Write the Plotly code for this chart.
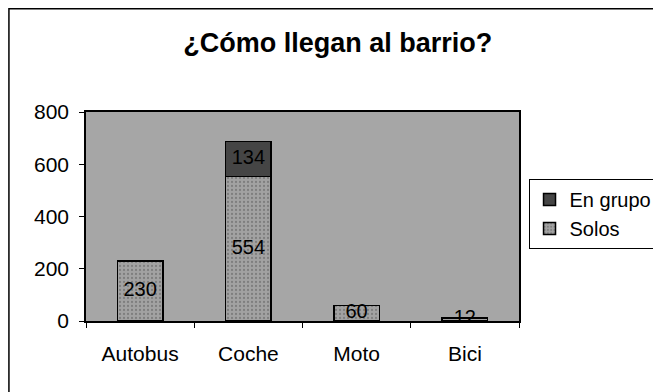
import plotly.graph_objects as go

# Datos
categorias = ['Autobus', 'Coche', 'Moto', 'Bici']
solos = [230, 554, 60, 12]
en_grupo = [0, 134, 0, 0]

fuente = 'Liberation Sans, Arial, sans-serif'

fig = go.Figure()

fig.add_trace(go.Bar(
    x=categorias, y=solos, name='Solos',
    marker=dict(color='#a2a2a2', line=dict(color='black', width=1.5),
                pattern=dict(shape='.', fgcolor='#5a5a5a', size=4, solidity=0.25)),
    width=0.42,
))
fig.add_trace(go.Bar(
    x=categorias, y=en_grupo, name='En grupo',
    marker=dict(color='#454545', line=dict(color='black', width=1.5)),
    width=0.42,
))

# Etiquetas de valor centradas en cada segmento
fig.add_trace(go.Scatter(
    x=categorias, y=[v / 2 for v in solos], mode='text',
    text=[str(v) for v in solos], textfont=dict(family=fuente, size=20, color='black'),
    showlegend=False, hoverinfo='skip',
))
idx = [i for i, v in enumerate(en_grupo) if v > 0]
fig.add_trace(go.Scatter(
    x=[categorias[i] for i in idx], y=[solos[i] + en_grupo[i] / 2 for i in idx], mode='text',
    text=[str(en_grupo[i]) for i in idx], textfont=dict(family=fuente, size=20, color='black'),
    showlegend=False, hoverinfo='skip',
))

# la pagina tiene 8px de margen en el body: la figura se reduce para caber
fig.update_layout(
    barmode='stack',
    width=653, height=384,
    margin=dict(l=78, r=142, t=104, b=71, autoexpand=False),
    paper_bgcolor='white',
    plot_bgcolor='#a6a6a6',
    font=dict(family=fuente, size=21, color='black'),
    title=dict(text='<b>¿Cómo llegan al barrio?</b>', x=0.505, xref='container', xanchor='center',
               y=0.911, yanchor='middle', font=dict(size=27, family=fuente)),
    showlegend=True,
    legend=dict(x=1.022, y=0.68, xanchor='left', yanchor='top', traceorder='reversed',
                bgcolor='white', bordercolor='black', borderwidth=1,
                font=dict(size=20), itemwidth=30),
    shapes=[dict(type='rect', xref='paper', yref='paper', x0=-0.178, x1=1.6, y0=-0.5, y1=1.494,
                 line=dict(color='black', width=1.5), fillcolor='rgba(0,0,0,0)', layer='below')],
)

fig.update_xaxes(showline=True, linecolor='black', linewidth=1.5, mirror=True,
                 ticks='outside', tickson='boundaries', ticklen=5, tickcolor='black',
                 showgrid=False, tickfont=dict(size=21), ticklabelstandoff=13)
fig.update_yaxes(range=[0, 800], dtick=200, showline=True, linecolor='black', linewidth=1.5,
                 mirror=True, ticks='outside', ticklen=5, tickcolor='black',
                 showgrid=False, zeroline=False, tickfont=dict(size=21), ticklabelstandoff=6)

fig.write_html('out.html')
